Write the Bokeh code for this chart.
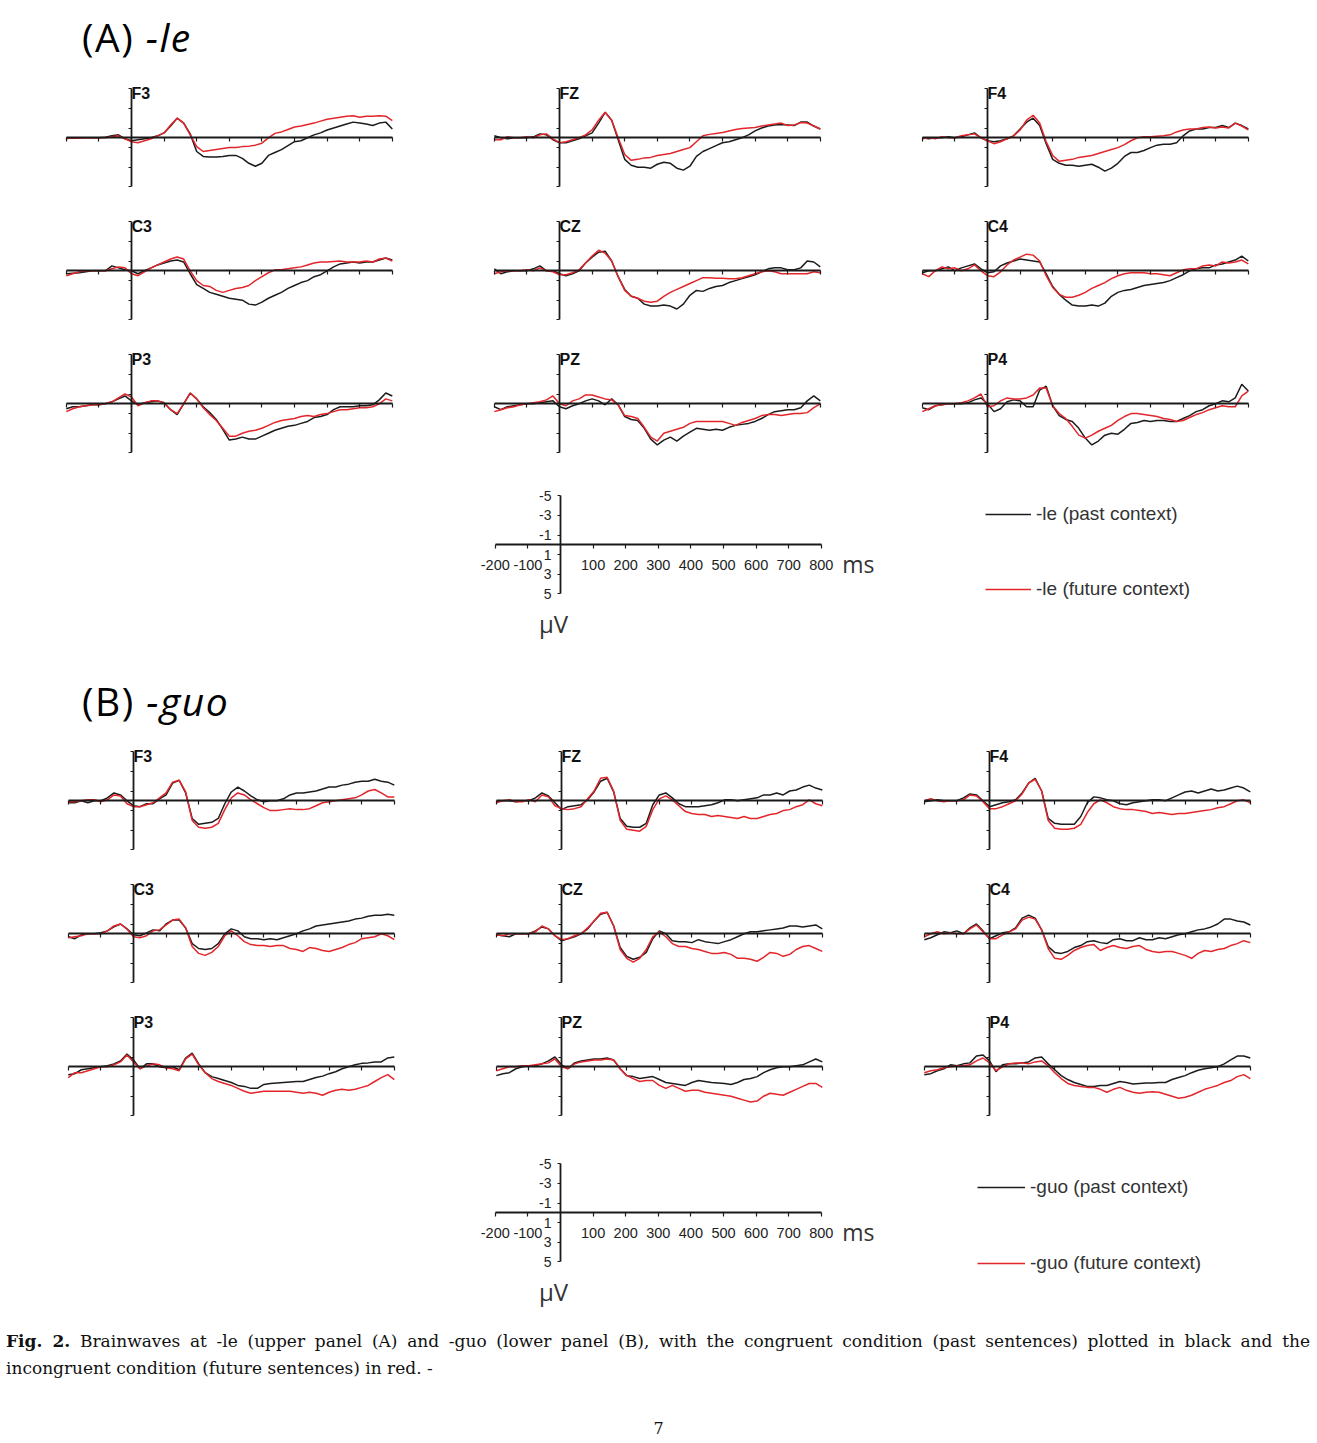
import numpy as np
from bokeh.plotting import figure
from bokeh.models import (Range1d, LinearAxis, FixedTicker, CustomJSTickFormatter, Grid,
                          Label, Legend, LegendItem, Div, Spacer)
from bokeh.layouts import column, row
from bokeh.embed import file_html
from bokeh.resources import INLINE

# ---------------- data ----------------
times = list(range(-200, 801, 20))          # ms
panel_x_ticks = list(range(-200, 801, 100))
scale_x_ticks = [-200, -100, 100, 200, 300, 400, 500, 600, 700, 800]
uv_ticks = [-5, -3, -1, 1, 3, 5]            # microvolts (negative plotted up)
channel_rows = [["F3", "FZ", "F4"], ["C3", "CZ", "C4"], ["P3", "PZ", "P4"]]

# (A) -le : past context (black) / future context (red)
le_F3_past = [0, 0.05, 0, 0, 0, 0, -0.05, -0.2, -0.3, 0.1,
              0.3, 0.2, 0.1, 0, -0.2, -0.5, -1.2, -2.0, -1.5, -0.4,
              1.4, 1.9, 1.95, 1.95, 1.9, 1.8, 1.8, 2.1, 2.6, 2.9,
              2.6, 1.8, 1.5, 1.2, 0.8, 0.4, 0.3, 0.0, -0.3, -0.5,
              -0.8, -1.0, -1.2, -1.4, -1.6, -1.5, -1.4, -1.25, -1.5, -1.6, -0.9]
le_F3_future = [0.1, 0, 0.05, 0, 0, 0, 0, -0.1, -0.2, 0.1,
                0.4, 0.5, 0.3, 0.1, -0.2, -0.5, -1.3, -2.0, -1.5, -0.3,
                0.9, 1.4, 1.3, 1.2, 1.1, 1.0, 1.0, 0.9, 0.85, 0.75,
                0.55, 0.0, -0.45, -0.6, -0.85, -1.1, -1.2, -1.35, -1.5, -1.7,
                -1.9, -2.0, -2.1, -2.2, -2.25, -2.1, -2.2, -2.2, -2.25, -2.2, -1.75]
le_FZ_past = [-0.2, 0, 0.1, 0, 0, 0, -0.1, -0.4, -0.3, 0.2,
              0.5, 0.5, 0.3, 0.1, -0.2, -0.5, -1.5, -2.6, -1.8, 0.2,
              2.2, 2.8, 3.0, 3.0, 3.1, 2.7, 2.5, 2.6, 3.1, 3.3,
              2.9, 1.9, 1.4, 1.1, 0.8, 0.5, 0.4, 0.2, 0.0, -0.3,
              -0.7, -1.0, -1.2, -1.3, -1.35, -1.3, -1.25, -1.6, -1.6, -1.2, -0.9]
le_FZ_future = [0.2, 0.2, -0.1, 0, 0, -0.1, 0, -0.3, -0.4, 0.1,
                0.5, 0.4, 0.2, 0, -0.3, -0.8, -1.8, -2.6, -1.8, 0.0,
                1.7, 2.3, 2.2, 2.05, 2.0, 1.8, 1.7, 1.6, 1.4, 1.2,
                1.0, 0.4, -0.2, -0.35, -0.45, -0.55, -0.7, -0.85, -0.95, -1.0,
                -1.05, -1.2, -1.3, -1.4, -1.5, -1.25, -1.3, -1.55, -1.5, -1.2, -0.9]
le_F4_past = [0, 0.1, 0, 0, -0.1, 0, -0.1, -0.3, -0.5, 0.0,
              0.3, 0.4, 0.3, 0.1, -0.2, -0.9, -1.6, -2.0, -1.25, 0.6,
              2.2, 2.6, 2.8, 2.8, 2.9, 2.8, 2.7, 3.0, 3.4, 3.1,
              2.6, 1.9, 1.5, 1.5, 1.3, 1.0, 0.75, 0.65, 0.65, 0.5,
              -0.2, -0.7, -0.9, -0.9, -1.05, -1.05, -1.25, -1.05, -1.5, -1.25, -0.9]
le_F4_future = [0.1, 0, 0.1, -0.1, 0, 0, -0.2, -0.3, -0.4, 0.0,
                0.3, 0.6, 0.4, 0.1, -0.2, -0.8, -1.8, -2.3, -1.5, 0.4,
                1.8, 2.4, 2.3, 2.2, 2.0, 1.9, 1.8, 1.6, 1.4, 1.2,
                1.0, 0.7, 0.3, 0.0, -0.1, -0.1, -0.15, -0.2, -0.3, -0.6,
                -0.8, -0.9, -0.9, -1.05, -1.1, -1.0, -1.1, -1.0, -1.5, -1.2, -0.8]
le_C3_past = [0.3, 0.25, 0.2, 0.1, 0, 0, 0, -0.5, -0.3, -0.1,
              0.0, 0.3, 0.0, -0.3, -0.6, -0.8, -1.0, -1.1, -0.9, 0.3,
              1.4, 1.8, 2.2, 2.4, 2.6, 2.8, 2.9, 3.0, 3.4, 3.5,
              3.2, 2.8, 2.5, 2.2, 1.8, 1.5, 1.2, 1.0, 0.6, 0.4,
              0.0, -0.4, -0.7, -0.8, -0.9, -0.8, -0.9, -0.9, -1.1, -1.3, -1.1]
le_C3_future = [0.5, 0.3, 0.1, 0, 0, 0, 0, -0.2, -0.4, -0.3,
                0.3, 0.5, 0.1, -0.3, -0.6, -0.9, -1.2, -1.4, -1.2, 0.0,
                1.0, 1.5, 1.6, 2.0, 2.2, 2.0, 1.8, 1.7, 1.5, 1.0,
                0.6, 0.2, -0.1, -0.1, -0.2, -0.3, -0.4, -0.6, -0.8, -0.9,
                -0.9, -0.95, -1.0, -0.9, -0.9, -0.9, -1.0, -0.9, -1.2, -1.3, -1.0]
le_CZ_past = [-0.2, 0.3, 0.1, 0, 0, 0, -0.2, -0.5, 0.0, 0.0,
              0.3, 0.5, 0.3, 0.0, -0.8, -1.4, -1.9, -2.0, -1.0, 0.6,
              1.9, 2.6, 2.8, 3.4, 3.6, 3.6, 3.5, 3.6, 3.9, 3.4,
              2.5, 2.0, 2.1, 1.8, 1.6, 1.5, 1.2, 1.0, 0.8, 0.6,
              0.4, 0.1, -0.2, -0.3, -0.3, -0.1, -0.1, -0.3, -1.0, -0.9, -0.4]
le_CZ_future = [0.3, 0.1, 0, 0, 0, -0.1, 0, -0.3, 0, 0.1,
                0.4, 0.4, 0.2, -0.1, -0.8, -1.5, -2.1, -1.8, -1.0, 0.6,
                2.0, 2.6, 2.8, 3.1, 3.2, 3.1, 2.6, 2.2, 1.9, 1.6,
                1.3, 1.0, 0.7, 0.7, 0.75, 0.75, 0.8, 0.8, 0.7, 0.5,
                0.3, 0.1, 0.0, 0.1, 0.3, 0.3, 0.3, 0.3, 0.3, 0.1, 0.2]
le_C4_past = [0.2, 0, 0, -0.2, -0.4, 0, -0.3, -0.5, -0.7, -0.2,
              0.2, 0.1, -0.5, -0.8, -1.0, -1.2, -1.1, -1.0, -0.9, 0.3,
              1.6, 2.4, 3.0, 3.5, 3.6, 3.6, 3.5, 3.6, 3.3, 2.6,
              2.2, 2.0, 1.9, 1.7, 1.5, 1.4, 1.3, 1.2, 1.0, 0.7,
              0.4, 0.0, -0.2, -0.3, -0.3, -0.6, -0.7, -0.9, -1.1, -1.5, -1.0]
le_C4_future = [0.3, 0.6, 0, -0.4, -0.2, -0.3, 0, -0.2, -0.6, 0.0,
                0.5, 0.6, 0.1, -0.6, -1.1, -1.4, -1.7, -1.6, -1.0, 0.5,
                1.7, 2.4, 2.7, 2.7, 2.5, 2.2, 1.8, 1.5, 1.2, 0.8,
                0.5, 0.3, 0.2, 0.2, 0.2, 0.3, 0.3, 0.4, 0.5, 0.2,
                -0.1, -0.2, -0.2, -0.5, -0.6, -0.5, -0.9, -0.8, -0.9, -1.1, -0.7]
le_P3_past = [0.5, 0.3, 0.3, 0.2, 0.1, 0.1, 0.0, -0.2, -0.5, -0.8,
              -0.3, 0.1, -0.1, -0.2, -0.3, -0.1, 0.6, 1.1, 0.0, -1.1,
              -0.5, 0.3, 0.9, 1.6, 2.6, 3.7, 3.6, 3.4, 3.6, 3.6,
              3.3, 3.0, 2.7, 2.5, 2.3, 2.2, 2.0, 1.8, 1.4, 1.3,
              1.1, 0.6, 0.3, 0.3, 0.3, 0.2, 0.2, 0.1, -0.4, -1.1, -0.8]
le_P3_future = [0.8, 0.5, 0.3, 0.2, 0.1, 0.1, 0.0, -0.2, -0.6, -1.0,
                -0.7, 0.2, -0.1, -0.3, -0.3, -0.1, 0.6, 1.0, 0.0, -1.1,
                -0.5, 0.4, 1.1, 1.7, 2.5, 3.3, 3.3, 3.0, 2.8, 2.7,
                2.5, 2.2, 1.9, 1.7, 1.6, 1.5, 1.3, 1.2, 1.3, 1.1,
                1.0, 0.8, 0.6, 0.6, 0.5, 0.4, 0.4, 0.3, 0.0, -0.5, -0.3]
le_PZ_past = [0.3, 0.6, 0.3, 0.2, 0.1, 0, 0, -0.1, -0.2, -0.3,
              0.3, 0.5, 0.2, 0.0, -0.3, -0.5, -0.3, 0.1, -0.5, 0.1,
              1.3, 1.6, 1.7, 2.5, 3.6, 4.2, 3.7, 3.4, 3.8, 3.3,
              2.9, 2.5, 2.6, 2.7, 2.6, 2.7, 2.4, 2.2, 2.1, 2.0,
              1.8, 1.5, 1.1, 0.8, 0.7, 0.6, 0.6, 0.4, -0.3, -0.8, -0.3]
le_PZ_future = [0.8, 0.6, 0.4, 0.3, 0.1, 0, -0.1, -0.2, -0.4, -0.8,
                0.0, 0.2, -0.3, -0.5, -0.9, -0.9, -0.7, -0.5, -0.4, 0.1,
                1.2, 1.3, 1.5, 2.4, 3.4, 3.8, 3.0, 2.8, 2.6, 2.4,
                2.0, 1.8, 1.8, 1.8, 1.8, 1.8, 2.0, 2.2, 1.9, 1.7,
                1.5, 1.2, 1.1, 1.1, 1.2, 1.1, 1.0, 1.0, 0.9, 0.4, 0.0]
le_P4_past = [0.4, 0.6, 0.2, 0.1, 0, 0, 0, -0.1, -0.4, -0.6,
              0.0, 0.8, 0.5, -0.2, -0.4, -0.3, 0.3, 0.3, -1.4, -1.8,
              0.2, 1.2, 1.6, 1.8, 2.5, 3.5, 4.2, 3.8, 3.2, 3.0,
              3.1, 2.6, 2.0, 1.9, 1.7, 1.8, 1.7, 1.7, 1.8, 1.8,
              1.5, 1.2, 0.8, 0.6, 0.2, 0.0, -0.3, -0.2, -0.6, -2.0, -1.3]
le_P4_future = [0.8, 0.5, 0.2, 0.1, 0, 0, -0.1, -0.3, -0.6, -1.0,
                0.3, 0.2, -0.3, -0.6, -0.5, -0.5, -0.6, -0.9, -1.6, -1.6,
                0.2, 1.0, 1.5, 2.3, 3.2, 3.5, 3.2, 2.8, 2.5, 2.2,
                1.7, 1.3, 1.0, 1.0, 1.1, 1.2, 1.3, 1.5, 1.6, 1.8,
                1.7, 1.4, 1.1, 0.9, 0.6, 0.4, 0.2, 0.3, 0.3, -0.8, -1.3]

# (B) -guo : past context (black) / future context (red)
guo_F3_past = [0.2, 0.2, 0.0, 0.2, 0.0, 0.0, -0.3, -0.8, -0.6, 0.0,
               0.5, 0.6, 0.3, 0.3, -0.2, -0.6, -1.8, -2.1, -0.8, 1.8,
               2.4, 2.3, 2.2, 1.8, 0.3, -0.9, -1.4, -1.0, -0.5, -0.1,
               0.1, 0.0, 0.0, -0.2, -0.6, -0.8, -0.8, -0.9, -1.0, -1.2,
               -1.4, -1.4, -1.6, -1.7, -1.9, -2.0, -2.0, -2.2, -2.0, -1.9, -1.6]
guo_F3_future = [0.1, 0.1, 0.0, -0.1, -0.1, 0.1, -0.1, -0.6, -0.5, 0.3,
                 0.6, 0.6, 0.4, 0.2, -0.3, -0.8, -1.9, -2.1, -0.9, 2.0,
                 2.7, 2.8, 2.7, 2.3, 0.9, -0.3, -0.8, -0.6, -0.1, 0.3,
                 0.7, 1.0, 1.0, 0.9, 0.8, 0.9, 0.9, 0.8, 0.5, 0.2,
                 0.1, 0.0, -0.1, -0.2, -0.3, -0.6, -1.0, -1.15, -0.8, -0.4, -0.4]
guo_FZ_past = [0.1, 0, 0, 0.1, 0, 0, -0.3, -0.8, -0.5, 0.2,
               0.9, 0.6, 0.5, 0.4, -0.1, -0.9, -2.0, -2.3, -0.9, 1.8,
               2.6, 2.7, 2.7, 2.3, 0.4, -0.6, -0.8, -0.3, 0.3, 0.6,
               0.6, 0.6, 0.5, 0.4, 0.2, -0.1, -0.1, 0.0, -0.1, -0.2,
               -0.3, -0.6, -0.6, -0.8, -0.6, -1.0, -1.1, -1.4, -1.6, -1.3, -1.1]
guo_FZ_future = [0.2, 0, -0.1, 0.1, 0.1, -0.1, 0.1, -0.6, -0.4, 0.5,
                 0.8, 0.9, 0.8, 0.6, -0.2, -1.0, -2.3, -2.4, -1.0, 2.0,
                 2.9, 3.0, 3.1, 2.6, 0.9, -0.2, -0.5, -0.1, 0.5, 1.1,
                 1.3, 1.4, 1.4, 1.6, 1.5, 1.6, 1.7, 1.8, 1.6, 1.8,
                 1.8, 1.6, 1.4, 1.3, 1.0, 0.9, 0.6, 0.4, -0.1, 0.3, 0.5]
guo_F4_past = [0.1, 0.0, -0.1, 0.0, 0, 0, -0.3, -0.7, -0.6, 0.0,
               0.6, 0.4, 0.2, 0.1, -0.1, -0.8, -1.8, -2.3, -1.0, 1.8,
               2.3, 2.4, 2.4, 2.4, 1.6, 0.2, -0.4, -0.3, -0.1, 0.0,
               0.3, 0.4, 0.2, 0.1, 0.0, -0.1, -0.1, 0.0, -0.3, -0.6,
               -0.9, -1.0, -0.8, -1.0, -1.2, -1.0, -1.1, -1.3, -1.5, -1.3, -0.9]
guo_F4_future = [0.0, -0.2, 0.0, 0.1, 0, 0, -0.1, -0.6, -0.5, 0.1,
                 0.8, 0.8, 0.6, 0.3, 0.0, -0.7, -1.8, -2.2, -1.0, 2.0,
                 2.8, 2.9, 2.9, 2.8, 2.4, 1.2, 0.3, -0.1, 0.2, 0.6,
                 0.8, 0.9, 0.9, 1.0, 1.1, 1.3, 1.2, 1.3, 1.4, 1.3,
                 1.3, 1.2, 1.1, 1.0, 0.9, 0.7, 0.6, 0.3, 0.0, -0.1, 0.2]
guo_C3_past = [0.3, 0.5, 0.1, 0.0, 0.0, -0.1, -0.3, -0.7, -1.0, -0.5,
               0.1, 0.2, -0.1, -0.4, -0.3, -1.0, -1.4, -1.4, -0.6, 1.0,
               1.5, 1.6, 1.5, 1.0, 0.0, -0.5, -0.3, 0.3, 0.5, 0.5,
               0.6, 0.5, 0.6, 0.4, 0.2, 0.0, -0.3, -0.5, -0.8, -0.9,
               -1.0, -1.1, -1.2, -1.3, -1.5, -1.6, -1.8, -1.9, -1.9, -2.0, -1.9]
guo_C3_future = [0.4, 0.3, 0.2, 0.0, 0.0, 0.0, -0.3, -0.8, -1.0, -0.5,
                 0.3, 0.4, 0.2, -0.3, -0.4, -0.9, -1.4, -1.5, -0.6, 1.3,
                 2.0, 2.2, 1.9, 1.3, 0.2, -0.3, 0.2, 0.8, 1.1, 1.2,
                 1.2, 1.3, 1.2, 1.2, 1.5, 1.6, 1.8, 1.4, 1.5, 1.7,
                 1.8, 1.6, 1.4, 1.1, 0.9, 0.5, 0.4, 0.3, 0.0, 0.2, 0.6]
guo_CZ_past = [0.1, 0.2, 0.3, 0.0, 0.0, 0.0, -0.3, -0.7, -0.5, 0.2,
               0.7, 0.5, 0.3, 0.0, -0.5, -1.3, -2.0, -2.2, -0.8, 1.4,
               2.3, 2.6, 2.4, 1.9, 0.5, -0.3, 0.0, 0.7, 0.8, 0.8,
               0.9, 0.6, 0.8, 0.9, 1.0, 0.8, 0.6, 0.3, 0.0, -0.2,
               -0.2, -0.3, -0.4, -0.5, -0.6, -0.8, -0.8, -0.7, -0.8, -0.9, -0.5]
guo_CZ_future = [0.1, 0.2, 0.0, 0.0, 0.0, 0.0, -0.2, -0.8, -0.5, 0.2,
                 0.6, 0.5, 0.2, 0.0, -0.6, -1.3, -2.1, -2.2, -0.8, 1.6,
                 2.5, 2.9, 2.5, 1.6, 0.3, -0.2, 0.3, 1.0, 1.3, 1.3,
                 1.5, 1.6, 1.8, 2.0, 2.0, 1.9, 2.1, 2.5, 2.5, 2.6,
                 2.8, 2.4, 1.9, 2.0, 2.3, 2.1, 1.6, 1.3, 1.2, 1.5, 1.8]
guo_C4_past = [0.6, 0.4, 0.1, -0.2, -0.1, -0.3, 0.0, -0.6, -1.0, -0.3,
               0.5, 0.2, -0.1, -0.2, -0.6, -1.6, -1.9, -1.6, -0.4, 1.3,
               1.9, 2.0, 1.8, 1.4, 1.2, 0.8, 0.7, 0.9, 1.0, 0.6,
               0.5, 0.7, 0.7, 0.4, 0.6, 0.6, 0.4, 0.5, 0.3, 0.1,
               0.0, -0.2, -0.4, -0.5, -0.7, -1.0, -1.5, -1.5, -1.3, -1.2, -0.9]
guo_C4_future = [0.3, 0.0, -0.2, 0.0, -0.1, 0.0, 0.0, -0.5, -0.9, -0.2,
                 0.5, 0.5, 0.1, -0.2, -0.5, -1.4, -1.7, -1.5, -0.4, 1.5,
                 2.5, 2.6, 2.2, 1.7, 1.4, 1.2, 1.1, 1.7, 1.4, 1.2,
                 1.4, 1.5, 1.3, 1.2, 1.6, 1.8, 1.9, 1.8, 1.8, 2.0,
                 2.2, 2.5, 2.0, 1.7, 1.8, 1.6, 1.5, 1.2, 1.0, 0.7, 0.9]
guo_P3_past = [0.8, 0.7, 0.3, 0.2, 0.1, 0.0, -0.1, -0.3, -0.6, -1.3,
               -0.7, 0.2, -0.3, -0.3, 0.0, 0.1, 0.0, 0.3, -0.9, -1.4,
               -0.3, 0.6, 1.0, 1.2, 1.4, 1.6, 1.9, 2.0, 2.2, 2.2,
               1.8, 1.7, 1.65, 1.6, 1.55, 1.5, 1.5, 1.3, 1.1, 0.95,
               0.7, 0.5, 0.2, 0.0, -0.2, -0.35, -0.4, -0.5, -0.5, -0.9, -1.0]
guo_P3_future = [1.1, 0.6, 0.6, 0.4, 0.2, 0.0, 0.0, -0.2, -0.5, -1.2,
                 -0.5, 0.2, -0.1, -0.3, -0.2, 0.1, 0.2, 0.4, -0.8, -1.3,
                 -0.2, 0.6, 1.2, 1.5, 1.7, 1.9, 2.2, 2.5, 2.7, 2.6,
                 2.5, 2.5, 2.5, 2.5, 2.5, 2.6, 2.7, 2.6, 2.7, 2.9,
                 2.6, 2.4, 2.3, 2.4, 2.3, 2.1, 1.9, 1.5, 1.1, 0.8, 1.3]
guo_PZ_past = [0.9, 0.7, 0.6, 0.2, 0.0, -0.1, -0.1, -0.3, -0.6, -1.0,
               -0.2, 0.2, -0.4, -0.6, -0.7, -0.8, -0.8, -0.9, -0.7, 0.2,
               0.9, 1.0, 1.2, 1.1, 1.0, 1.3, 1.6, 1.7, 1.8, 1.9,
               1.6, 1.4, 1.5, 1.6, 1.65, 1.7, 1.8, 1.6, 1.3, 1.2,
               1.0, 0.6, 0.3, 0.1, 0.0, 0.0, -0.1, -0.2, -0.5, -0.8, -0.5]
guo_PZ_future = [0.4, 0.2, 0.0, 0.0, -0.1, -0.1, -0.2, -0.3, -0.4, -0.8,
                 0.0, 0.2, -0.3, -0.5, -0.6, -0.7, -0.7, -0.8, -0.7, 0.2,
                 0.9, 1.2, 1.5, 1.4, 1.4, 1.9, 2.2, 1.9, 2.2, 2.5,
                 2.4, 2.4, 2.6, 2.7, 2.8, 2.9, 3.0, 3.2, 3.4, 3.6,
                 3.5, 3.0, 2.7, 2.8, 2.9, 2.6, 2.3, 2.0, 1.7, 1.7, 2.1]
guo_P4_past = [0.8, 0.7, 0.4, 0.2, -0.2, -0.1, -0.3, -0.4, -1.1, -1.2,
               -0.6, 0.5, -0.2, -0.3, -0.3, -0.4, -0.5, -0.9, -1.0, -0.3,
               0.3, 0.9, 1.3, 1.6, 1.8, 2.0, 2.0, 1.9, 1.9, 1.7,
               1.5, 1.6, 1.75, 1.7, 1.65, 1.65, 1.6, 1.6, 1.3, 1.1,
               0.9, 0.6, 0.35, 0.2, 0.1, 0.0, -0.3, -0.7, -1.1, -1.1, -0.9]
guo_P4_future = [0.6, 0.4, 0.3, 0.1, 0.0, -0.1, -0.1, -0.2, -0.6, -0.9,
                 -0.4, 0.4, 0.0, -0.3, -0.4, -0.4, -0.3, -0.5, -0.6, -0.1,
                 0.6, 1.2, 1.7, 1.9, 2.0, 2.1, 2.1, 2.3, 2.6, 2.3,
                 2.1, 2.4, 2.6, 2.7, 2.6, 2.55, 2.6, 2.8, 3.0, 3.2,
                 3.1, 2.9, 2.6, 2.3, 2.1, 1.9, 1.6, 1.4, 1.0, 0.8, 1.2]

le_data = {
    "F3": (le_F3_past, le_F3_future), "FZ": (le_FZ_past, le_FZ_future), "F4": (le_F4_past, le_F4_future),
    "C3": (le_C3_past, le_C3_future), "CZ": (le_CZ_past, le_CZ_future), "C4": (le_C4_past, le_C4_future),
    "P3": (le_P3_past, le_P3_future), "PZ": (le_PZ_past, le_PZ_future), "P4": (le_P4_past, le_P4_future),
}
guo_data = {
    "F3": (guo_F3_past, guo_F3_future), "FZ": (guo_FZ_past, guo_FZ_future), "F4": (guo_F4_past, guo_F4_future),
    "C3": (guo_C3_past, guo_C3_future), "CZ": (guo_CZ_past, guo_CZ_future), "C4": (guo_C4_past, guo_C4_future),
    "P3": (guo_P3_past, guo_P3_future), "PZ": (guo_PZ_past, guo_PZ_future), "P4": (guo_P4_past, guo_P4_future),
}

# ---------------- styling / geometry ----------------
BLACK = "#1c1c1c"
RED = "#e3262b"
AXIS = "#1a1a1a"
PX_MS = 0.326      # pixels per millisecond
PX_UV = 9.8        # pixels per microvolt
PW, PH = 428, 133  # panel size
ZERO_X = 131       # px from panel left to t = 0
BASE_Y = 67.3      # px from panel top to 0 uV
FULL_W = 1317


def blank_fig(width, height, zero_x, base_y):
    p = figure(width=width, height=height, output_backend="svg", toolbar_location=None,
               x_range=Range1d(-zero_x / PX_MS, (width - zero_x) / PX_MS),
               y_range=Range1d((height - base_y) / PX_UV, -base_y / PX_UV),
               x_axis_location=None, y_axis_location=None, min_border=0)
    for g in p.select(type=Grid):
        g.visible = False
    p.center = [r for r in p.center if not isinstance(r, Grid)]
    p.outline_line_color = None
    p.background_fill_color = "white"
    p.border_fill_color = "white"
    return p


def style_axis(ax, tick_out):
    ax.axis_line_color = AXIS
    ax.axis_line_width = 1.8
    ax.major_tick_line_color = AXIS
    ax.major_tick_line_width = 1.2
    ax.major_tick_out = tick_out
    ax.major_tick_in = 0
    ax.minor_tick_out = 0
    ax.minor_tick_in = 0


def panel(name, past, future):
    p = blank_fig(PW, PH, ZERO_X, BASE_Y)
    xa = LinearAxis(fixed_location=0, bounds=(-200, 800), ticker=FixedTicker(ticks=panel_x_ticks),
                    formatter=CustomJSTickFormatter(code="return ''"))
    style_axis(xa, 4)
    p.add_layout(xa, "below")
    ya = LinearAxis(fixed_location=0, bounds=(-5, 5), ticker=FixedTicker(ticks=uv_ticks),
                    formatter=CustomJSTickFormatter(code="return ''"))
    style_axis(ya, 3)
    p.add_layout(ya, "left")
    p.line(times, past, line_color=BLACK, line_width=1.5)
    p.line(times, future, line_color=RED, line_width=1.5)
    p.add_layout(Label(x=0, y=uv_ticks[0] + 5 / PX_UV, text=name, text_font="Liberation Sans",
                       text_font_style="bold", text_font_size="16px", text_color="#111111",
                       text_baseline="middle"))
    return p


def bottom(past_label, future_label, height, base_y, leg_x, leg_bottom, glyph_w, gap):
    p = blank_fig(FULL_W, height, 560, base_y)
    xa = LinearAxis(fixed_location=0, bounds=(-200, 800), ticker=FixedTicker(ticks=scale_x_ticks),
                    formatter=CustomJSTickFormatter(code="return String(tick)"),
                    major_label_text_font="Liberation Sans", major_label_text_font_size="14.5px",
                    major_label_text_color="#222222", major_label_standoff=11)
    style_axis(xa, 4)
    p.add_layout(xa, "below")
    ya = LinearAxis(fixed_location=0, bounds=(-5, 5), ticker=FixedTicker(ticks=uv_ticks),
                    formatter=CustomJSTickFormatter(code="return String(tick)"),
                    major_label_text_font="Liberation Sans", major_label_text_font_size="14px",
                    major_label_text_color="#222222", major_label_standoff=6)
    style_axis(ya, 3)
    p.add_layout(ya, "left")
    p.add_layout(Label(x=800, y=0, text="ms", x_offset=21, y_offset=-19, text_baseline="middle",
                       text_font="Open Sans", text_font_size="23px", text_color="#333333"))
    p.add_layout(Label(x=0, y=5, text="μV", x_offset=-7, y_offset=-30, text_align="center",
                       text_baseline="middle", text_font="Open Sans", text_font_size="24px",
                       text_color="#333333"))
    nan2 = np.array([np.nan, np.nan])
    r_past = p.line(x=nan2, y=nan2, line_color=BLACK, line_width=1.5)
    r_fut = p.line(x=nan2, y=nan2, line_color=RED, line_width=1.7)
    leg = Legend(items=[LegendItem(label=past_label, renderers=[r_past]),
                        LegendItem(label=future_label, renderers=[r_fut])],
                 location=(leg_x, leg_bottom), orientation="vertical",
                 glyph_width=glyph_w, glyph_height=22, label_height=22, spacing=gap,
                 padding=0, margin=0, label_standoff=5,
                 border_line_alpha=0, background_fill_alpha=0,
                 label_text_font="Liberation Sans", label_text_font_size="19px",
                 label_text_color="#333333")
    p.add_layout(leg)
    return p


def title_div(letter, suffix, height, top):
    html = ('<div style="position:relative;left:82px;top:%dpx;font-family:\'Open Sans\';'
            'font-size:39px;line-height:39px;letter-spacing:1.5px;color:#000;white-space:nowrap">'
            '(%s) <i>%s</i></div>' % (top, letter, suffix))
    return Div(text=html, width=FULL_W, height=height, margin=0)


def block(data, shift):
    rows = []
    for names in channel_rows:
        figs = [panel(n, data[n][0], data[n][1]) for n in names]
        if shift:
            rows.append(row(Spacer(width=shift, height=PH, margin=0), *figs))
        else:
            rows.append(row(*figs))
    return rows


cap_style = ("position:relative;left:6px;width:1304px;font-family:'DejaVu Serif';font-size:17px;"
             "line-height:27px;color:#111;")
caption_html = (
    '<div style="' + cap_style + 'top:16px;text-align:justify;text-align-last:justify;">'
    '<b>Fig. 2.</b> <span>Brainwaves at -le (upper panel (A) and -guo (lower panel (B), with the congruent '
    'condition (past sentences) plotted in black and the</span></div>'
    '<div style="' + cap_style + 'top:16px;text-align:left;">'
    'incongruent condition (future sentences) in red. -</div>'
)
page_html = ('<div style="position:relative;top:0px;width:1317px;text-align:center;font-family:\'DejaVu Serif\';'
             'font-size:16px;line-height:28px;color:#111">7</div>')

layout = column(
    title_div("A", "-le", 70, 17),
    *block(le_data, 0),
    bottom("-le (past context)", "-le (future context)", 180, 75.3, 985, 49, 46, 53),
    title_div("B", "-guo", 84, 32),
    *block(guo_data, 2),
    bottom("-guo (past context)", "-guo (future context)", 180, 80.3, 977, 38, 48, 54),
    Div(text=caption_html, width=FULL_W, height=103, margin=0),
    Div(text=page_html, width=FULL_W, height=28, margin=0),
    spacing=0,
)

open("out.html", "w").write(file_html(layout, INLINE))
